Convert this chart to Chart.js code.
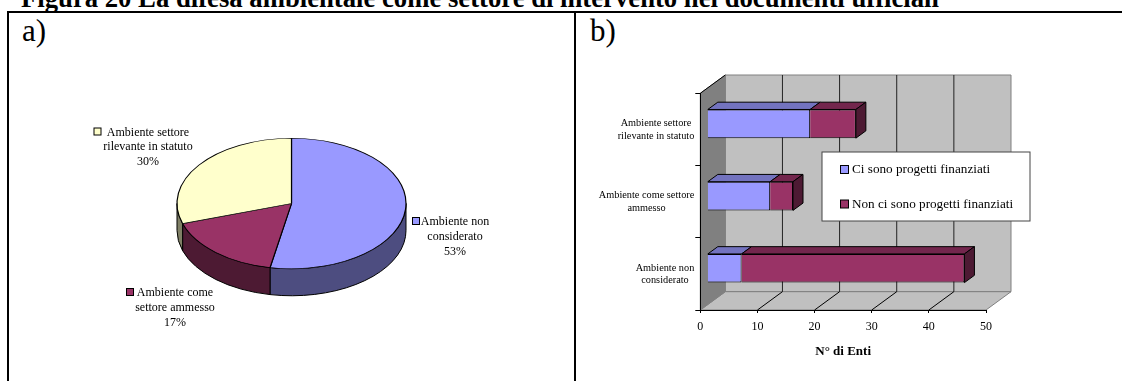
<!DOCTYPE html>
<html lang="it">
<head>
<meta charset="utf-8">
<title>La difesa ambientale come settore di intervento</title>
<script src="https://cdn.jsdelivr.net/npm/chart.js@4"></script>
<style>
  html, body { margin: 0; padding: 0; background: #fff; overflow: hidden; }
  body { width: 1122px; height: 381px; position: relative; font-family: "Liberation Serif", serif; color: #000; }
  canvas { position: absolute; display: block; }
  .heading { position: absolute; left: 21px; top: -17px; font: bold 26.7px/30px "Liberation Serif", serif; white-space: nowrap; }
  .rule { position: absolute; background: #000; }
  .tag { position: absolute; top: 13px; font: 31px/36px "Liberation Serif", serif; }
</style>
</head>
<body>
<div class="heading">Figura 20 La difesa ambientale come settore di intervento nei documenti ufficiali</div>
<div class="rule" style="left:7px;top:11px;width:1115px;height:2px"></div>
<div class="rule" style="left:7px;top:11px;width:2px;height:370px"></div>
<div class="rule" style="left:574px;top:11px;width:2px;height:370px"></div>
<div class="tag" style="left:22px">a)</div>
<div class="tag" style="left:590px">b)</div>
<canvas id="pie" width="565" height="367" style="left:9px;top:14px"></canvas>
<canvas id="bars" width="546" height="367" style="left:576px;top:14px"></canvas>
<script>
const FONT = '"Liberation Serif", serif';

// Share of institutions by the role of the environment in their documents
const pieCategories = [
  ['Ambiente non', 'considerato'],
  ['Ambiente come', 'settore ammesso'],
  ['Ambiente settore', 'rilevante in statuto']
];
const pieValues = [53, 17, 30];
const pieColors = ['#9999ff', '#993366', '#ffffcc'];
const pieSideColors = ['#4d4d80', '#4d1a33', '#808066'];

// Number of institutions, split by whether funded projects exist
const barCategories = [
  ['Ambiente settore', 'rilevante in statuto'],
  ['Ambiente come settore', 'ammesso'],
  ['Ambiente non', 'considerato']
];
const fundedLabel = 'Ci sono progetti finanziati';
const unfundedLabel = 'Non ci sono progetti finanziati';
const fundedValues = [18, 11, 6];
const unfundedValues = [8, 4, 39];
const xTicks = [0, 10, 20, 30, 40, 50];
const xTitle = 'N° di Enti';

Chart.defaults.font.family = FONT;
Chart.defaults.color = '#000';

/* ---------- a) tilted pie with a raised edge ---------- */
const TILT = 0.57;
const PIE_DEPTH = 27;
// Label block for each slice: centre of the text, left edge of the key, y of the first line
const pieLabelPlaces = [
  { cx: 446, keyX: 403, y: 208 },
  { cx: 166, keyX: 117, y: 279 },
  { cx: 139, keyX: 84.5, y: 118.5 }
];

const tiltedPie = {
  id: 'tiltedPie',
  beforeDatasetsDraw(chart) {
    const { ctx } = chart;
    const arcs = chart.getDatasetMeta(0).data;
    const { x: cx, y: cy, outerRadius: r } = arcs[0];
    const ry = r * TILT;
    ctx.save();
    arcs.forEach((arc, i) => {
      const from = Math.max(arc.startAngle, 0);
      const to = Math.min(arc.endAngle, Math.PI);
      if (from >= to) return;
      ctx.beginPath();
      ctx.ellipse(cx, cy, r, ry, 0, from, to);
      ctx.ellipse(cx, cy + PIE_DEPTH, r, ry, 0, to, from, true);
      ctx.closePath();
      ctx.fillStyle = pieSideColors[i];
      ctx.fill();
      ctx.lineWidth = 1;
      ctx.strokeStyle = '#000';
      ctx.stroke();
    });
    ctx.restore();
    ctx.save();
    ctx.translate(cx, cy);
    ctx.scale(1, TILT);
    ctx.translate(-cx, -cy);
  },
  afterDatasetsDraw(chart) {
    chart.ctx.restore();
    const { ctx } = chart;
    ctx.save();
    ctx.font = '12px ' + FONT;
    ctx.textAlign = 'center';
    ctx.textBaseline = 'middle';
    ctx.fillStyle = '#000';
    pieCategories.forEach((lines, i) => {
      const place = pieLabelPlaces[i];
      ctx.fillStyle = pieColors[i];
      ctx.fillRect(place.keyX + 0.5, place.y - 4.5, 7, 7);
      ctx.lineWidth = 1;
      ctx.strokeStyle = '#000';
      ctx.strokeRect(place.keyX + 0.5, place.y - 4.5, 7, 7);
      ctx.fillStyle = '#000';
      [...lines, pieValues[i] + '%'].forEach((text, n) => {
        ctx.fillText(text, place.cx, place.y + n * 14.8);
      });
    });
    ctx.restore();
  }
};

new Chart(document.getElementById('pie'), {
  type: 'pie',
  data: {
    labels: pieCategories.map(l => l.join(' ')),
    datasets: [{
      data: pieValues,
      backgroundColor: pieColors,
      borderColor: '#000',
      borderWidth: 1.2,
      clip: false
    }]
  },
  options: {
    responsive: false,
    animation: false,
    layout: { padding: { left: 167.4, right: 167.4, top: 74.4, bottom: 62.4 } },
    plugins: { legend: { display: false }, tooltip: { enabled: false } }
  },
  plugins: [tiltedPie]
});

/* ---------- b) stacked bars inside a box drawn in perspective ---------- */
const WALL_DX = 25;
const WALL_DY = 18.3;
const BAR_SHIFT_X = 7;
const BAR_SHIFT_Y = -5.6;
const BAR_DX = 10;
const BAR_DY = 7.3;
const barSideColor = '#4d1a33';
const barTopColors = ['#7373bf', '#73264d'];

function polygon(ctx, points, fill, stroke) {
  ctx.beginPath();
  points.forEach(([x, y], i) => (i ? ctx.lineTo(x, y) : ctx.moveTo(x, y)));
  ctx.closePath();
  ctx.fillStyle = fill;
  ctx.fill();
  ctx.lineWidth = 1;
  ctx.strokeStyle = stroke;
  ctx.stroke();
}

function segment(ctx, x1, y1, x2, y2, color) {
  ctx.beginPath();
  ctx.moveTo(x1, y1);
  ctx.lineTo(x2, y2);
  ctx.lineWidth = 1;
  ctx.strokeStyle = color;
  ctx.stroke();
}

const perspectiveBox = {
  id: 'perspectiveBox',
  beforeDraw(chart) {
    const { ctx, scales: { x } } = chart;
    const { left: L, right: R, top: T, bottom: B } = chart.chartArea;
    ctx.save();
    polygon(ctx, [[L + WALL_DX, T - WALL_DY], [R + WALL_DX, T - WALL_DY], [R + WALL_DX, B - WALL_DY], [L + WALL_DX, B - WALL_DY]], '#c0c0c0', '#808080');
    polygon(ctx, [[L, B], [R, B], [R + WALL_DX, B - WALL_DY], [L + WALL_DX, B - WALL_DY]], '#c0c0c0', '#808080');
    polygon(ctx, [[L, T], [L + WALL_DX, T - WALL_DY], [L + WALL_DX, B - WALL_DY], [L, B]], '#808080', '#808080');
    segment(ctx, L, T, L + WALL_DX, T - WALL_DY, '#000');
    xTicks.slice(1, -1).forEach(v => {
      const px = x.getPixelForValue(v);
      segment(ctx, px + WALL_DX, T - WALL_DY, px + WALL_DX, B - WALL_DY, '#222');
      segment(ctx, px, B, px + WALL_DX, B - WALL_DY, '#000');
    });
    ctx.restore();
  },
  beforeDatasetsDraw(chart) {
    const { ctx } = chart;
    ctx.save();
    ctx.translate(BAR_SHIFT_X, BAR_SHIFT_Y);
    chart.data.datasets.forEach((ds, d) => {
      chart.getDatasetMeta(d).data.forEach(bar => {
        const top = bar.y - bar.height / 2;
        const bottom = bar.y + bar.height / 2;
        polygon(ctx, [[bar.base, top], [bar.x, top], [bar.x + BAR_DX, top - BAR_DY], [bar.base + BAR_DX, top - BAR_DY]], barTopColors[d], '#000');
        if (d === chart.data.datasets.length - 1) {
          polygon(ctx, [[bar.x, top], [bar.x + BAR_DX, top - BAR_DY], [bar.x + BAR_DX, bottom - BAR_DY], [bar.x, bottom]], barSideColor, '#000');
        }
      });
    });
  },
  afterDatasetsDraw(chart) {
    chart.ctx.restore();
  },
  afterDraw(chart) {
    const { ctx, scales: { y } } = chart;
    ctx.save();
    ctx.fillStyle = '#000';
    ctx.font = '10.3px ' + FONT;
    ctx.textAlign = 'center';
    ctx.textBaseline = 'middle';
    // Category labels: two centred lines ending at the same right edge
    barCategories.forEach((lines, i) => {
      const widest = Math.max(...lines.map(t => ctx.measureText(t).width));
      const cx = y.left + y.width - 6 - widest / 2;
      const cy = y.getPixelForTick(i) + 0.5;
      lines.forEach((text, n) => ctx.fillText(text, cx, cy + (n - (lines.length - 1) / 2) * 12.8));
    });
    // Legend panel over the back wall
    const box = { x: 246, y: 138, w: 208, h: 69 };
    ctx.fillStyle = '#fff';
    ctx.fillRect(box.x, box.y, box.w, box.h);
    ctx.strokeStyle = '#444';
    ctx.lineWidth = 1;
    ctx.strokeRect(box.x, box.y, box.w, box.h);
    ctx.textAlign = 'left';
    ctx.font = '13.2px ' + FONT;
    chart.data.datasets.forEach((ds, d) => {
      const rowY = box.y + 17.5 + d * 34.5;
      ctx.fillStyle = ds.backgroundColor;
      ctx.fillRect(264.5, rowY - 4, 8, 8);
      ctx.strokeStyle = '#000';
      ctx.strokeRect(264.5, rowY - 4, 8, 8);
      ctx.fillStyle = '#000';
      ctx.fillText(ds.label, 276, rowY + 0.5);
    });
    ctx.restore();
  }
};

new Chart(document.getElementById('bars'), {
  type: 'bar',
  data: {
    labels: barCategories.map(l => l.join(' ')),
    datasets: [
      { label: fundedLabel, data: fundedValues, backgroundColor: '#9999ff', borderColor: '#000', borderWidth: 1, categoryPercentage: 1, barPercentage: 0.397 },
      { label: unfundedLabel, data: unfundedValues, backgroundColor: '#993366', borderColor: '#000', borderWidth: 1, categoryPercentage: 1, barPercentage: 0.397 }
    ]
  },
  options: {
    indexAxis: 'y',
    responsive: false,
    animation: false,
    layout: { padding: { left: 0, right: 136, top: 79.3, bottom: 0 } },
    scales: {
      x: {
        stacked: true,
        min: 0,
        max: 50,
        afterFit(scale) { scale.height = 71; },
        afterBuildTicks(scale) { scale.ticks = xTicks.map(value => ({ value })); },
        grid: { drawOnChartArea: false, drawTicks: true, tickLength: 3, tickColor: '#000' },
        border: { color: '#000', width: 1 },
        ticks: { maxRotation: 0, padding: 7, font: { size: 12, family: FONT }, color: '#000' },
        title: { display: true, text: xTitle, font: { size: 13, weight: 'bold', family: FONT }, color: '#000', padding: { top: 0, bottom: 22 } }
      },
      y: {
        stacked: true,
        afterFit(scale) { scale.width = 124.3; },
        grid: { drawOnChartArea: false, drawTicks: true, tickLength: 5, tickColor: '#000', offset: true },
        border: { color: '#000', width: 1 },
        ticks: { display: false }
      }
    },
    plugins: { legend: { display: false }, tooltip: { enabled: false } }
  },
  plugins: [perspectiveBox]
});
</script>
</body>
</html>
